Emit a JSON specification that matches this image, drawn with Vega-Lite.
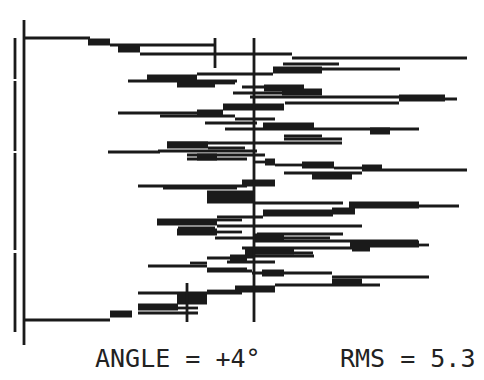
{
  "$schema": "https://vega.github.io/schema/vega-lite/v6.json",
  "width": 484,
  "height": 380,
  "padding": 0,
  "autosize": {"type": "fit", "contains": "padding"},
  "background": "#ffffff",
  "config": {"view": {"stroke": null}},
  "datasets": {
    "thin": [
      {"y":38,"x":24,"x2":90},{"y":45,"x":110,"x2":215},{"y":54,"x":140,"x2":292},{"y":58,"x":292,"x2":467},
      {"y":64,"x":283,"x2":339},{"y":69,"x":322,"x2":400},{"y":74,"x":197,"x2":273},{"y":81,"x":128,"x2":237},
      {"y":83,"x":215,"x2":235},{"y":87,"x":242,"x2":304},{"y":93,"x":233,"x2":322},{"y":97,"x":250,"x2":399},
      {"y":99,"x":399,"x2":457},{"y":103,"x":285,"x2":399},{"y":113,"x":118,"x2":223},{"y":116,"x":160,"x2":235},
      {"y":119,"x":235,"x2":275},{"y":123,"x":205,"x2":257},{"y":129,"x":225,"x2":419},{"y":136,"x":284,"x2":322},
      {"y":139,"x":284,"x2":342},{"y":143,"x":167,"x2":342},{"y":148,"x":208,"x2":245},{"y":152,"x":108,"x2":160},
      {"y":151,"x":158,"x2":257},{"y":155,"x":187,"x2":265},{"y":159,"x":187,"x2":247},{"y":162,"x":253,"x2":275},
      {"y":165,"x":275,"x2":302},{"y":168,"x":334,"x2":362},{"y":170,"x":382,"x2":467},{"y":173,"x":284,"x2":362},
      {"y":186,"x":138,"x2":247},{"y":188,"x":163,"x2":237},{"y":203,"x":253,"x2":343},{"y":206,"x":390,"x2":459},
      {"y":212,"x":294,"x2":332},{"y":217,"x":217,"x2":263},{"y":220,"x":217,"x2":242},{"y":223,"x":157,"x2":217},
      {"y":226,"x":217,"x2":362},{"y":228,"x":178,"x2":215},{"y":232,"x":217,"x2":242},{"y":234,"x":257,"x2":343},
      {"y":238,"x":215,"x2":330},{"y":241,"x":255,"x2":418},{"y":245,"x":419,"x2":429},{"y":248,"x":242,"x2":370},
      {"y":253,"x":255,"x2":313},{"y":256,"x":249,"x2":314},{"y":258,"x":207,"x2":247},{"y":262,"x":227,"x2":275},
      {"y":266,"x":148,"x2":207},{"y":263,"x":190,"x2":207},{"y":269,"x":207,"x2":247},{"y":271,"x":207,"x2":252},
      {"y":273,"x":252,"x2":332},{"y":277,"x":332,"x2":429},{"y":285,"x":275,"x2":380},{"y":291,"x":207,"x2":235},
      {"y":293,"x":138,"x2":242},{"y":308,"x":178,"x2":198},{"y":313,"x":138,"x2":198},{"y":320,"x":24,"x2":110}
    ],
    "thick": [
      {"y":42,"x":88,"x2":110},{"y":49,"x":118,"x2":140},{"y":70,"x":273,"x2":322},{"y":78,"x":147,"x2":197},
      {"y":84,"x":177,"x2":215},{"y":88,"x":264,"x2":304},{"y":92,"x":282,"x2":322},{"y":98,"x":399,"x2":445},
      {"y":107,"x":223,"x2":284},{"y":113,"x":197,"x2":223},{"y":126,"x":263,"x2":314},{"y":131,"x":370,"x2":390},
      {"y":145,"x":167,"x2":208},{"y":157,"x":197,"x2":217},{"y":162,"x":265,"x2":275},{"y":165,"x":302,"x2":334},
      {"y":168,"x":362,"x2":382},{"y":176,"x":312,"x2":352},{"y":183,"x":242,"x2":275},{"y":194,"x":207,"x2":253},
      {"y":200,"x":207,"x2":253},{"y":205,"x":349,"x2":419},{"y":211,"x":332,"x2":355},{"y":213,"x":263,"x2":333},
      {"y":222,"x":157,"x2":217},{"y":232,"x":177,"x2":217},{"y":237,"x":255,"x2":284},{"y":244,"x":350,"x2":419},
      {"y":248,"x":352,"x2":370},{"y":251,"x":245,"x2":294},{"y":255,"x":245,"x2":255},{"y":258,"x":230,"x2":247},
      {"y":273,"x":262,"x2":284},{"y":282,"x":332,"x2":362},{"y":289,"x":235,"x2":275},{"y":297,"x":177,"x2":207},
      {"y":301,"x":177,"x2":207},{"y":307,"x":138,"x2":178},{"y":314,"x":110,"x2":132}
    ],
    "vert": [
      {"x":24,"y":20,"y2":345},{"x":15,"y":38,"y2":79},{"x":15,"y":81,"y2":151},{"x":15,"y":153,"y2":250},
      {"x":15,"y":253,"y2":332},{"x":254,"y":38,"y2":322},{"x":215,"y":38,"y2":68},{"x":187,"y":283,"y2":322}
    ],
    "labels": [
      {"x":95,"y":367,"text":"ANGLE = +4°"},
      {"x":340,"y":367,"text":"RMS = 5.3"}
    ]
  },
  "layer": [
    {
      "data": {"name": "thin"},
      "mark": {"type": "rule", "strokeWidth": 2.8, "color": "#1a1a1a"},
      "encoding": {
        "x": {"field": "x", "type": "quantitative", "scale": {"domain": [0, 484], "nice": false, "zero": false}, "axis": null},
        "x2": {"field": "x2"},
        "y": {"field": "y", "type": "quantitative", "scale": {"domain": [0, 380], "nice": false, "zero": false, "reverse": true}, "axis": null}
      }
    },
    {
      "data": {"name": "thick"},
      "mark": {"type": "rule", "strokeWidth": 7, "color": "#1a1a1a"},
      "encoding": {
        "x": {"field": "x", "type": "quantitative", "scale": {"domain": [0, 484], "nice": false, "zero": false}, "axis": null},
        "x2": {"field": "x2"},
        "y": {"field": "y", "type": "quantitative", "scale": {"domain": [0, 380], "nice": false, "zero": false, "reverse": true}, "axis": null}
      }
    },
    {
      "data": {"name": "vert"},
      "mark": {"type": "rule", "strokeWidth": 2.8, "color": "#1a1a1a"},
      "encoding": {
        "x": {"field": "x", "type": "quantitative", "scale": {"domain": [0, 484], "nice": false, "zero": false}, "axis": null},
        "y": {"field": "y", "type": "quantitative", "scale": {"domain": [0, 380], "nice": false, "zero": false, "reverse": true}, "axis": null},
        "y2": {"field": "y2"}
      }
    },
    {
      "data": {"name": "labels"},
      "mark": {"type": "text", "align": "left", "baseline": "alphabetic", "font": "DejaVu Sans Mono", "fontSize": 25, "color": "#222222"},
      "encoding": {
        "x": {"field": "x", "type": "quantitative", "scale": {"domain": [0, 484], "nice": false, "zero": false}, "axis": null},
        "y": {"field": "y", "type": "quantitative", "scale": {"domain": [0, 380], "nice": false, "zero": false, "reverse": true}, "axis": null},
        "text": {"field": "text"}
      }
    }
  ]
}
